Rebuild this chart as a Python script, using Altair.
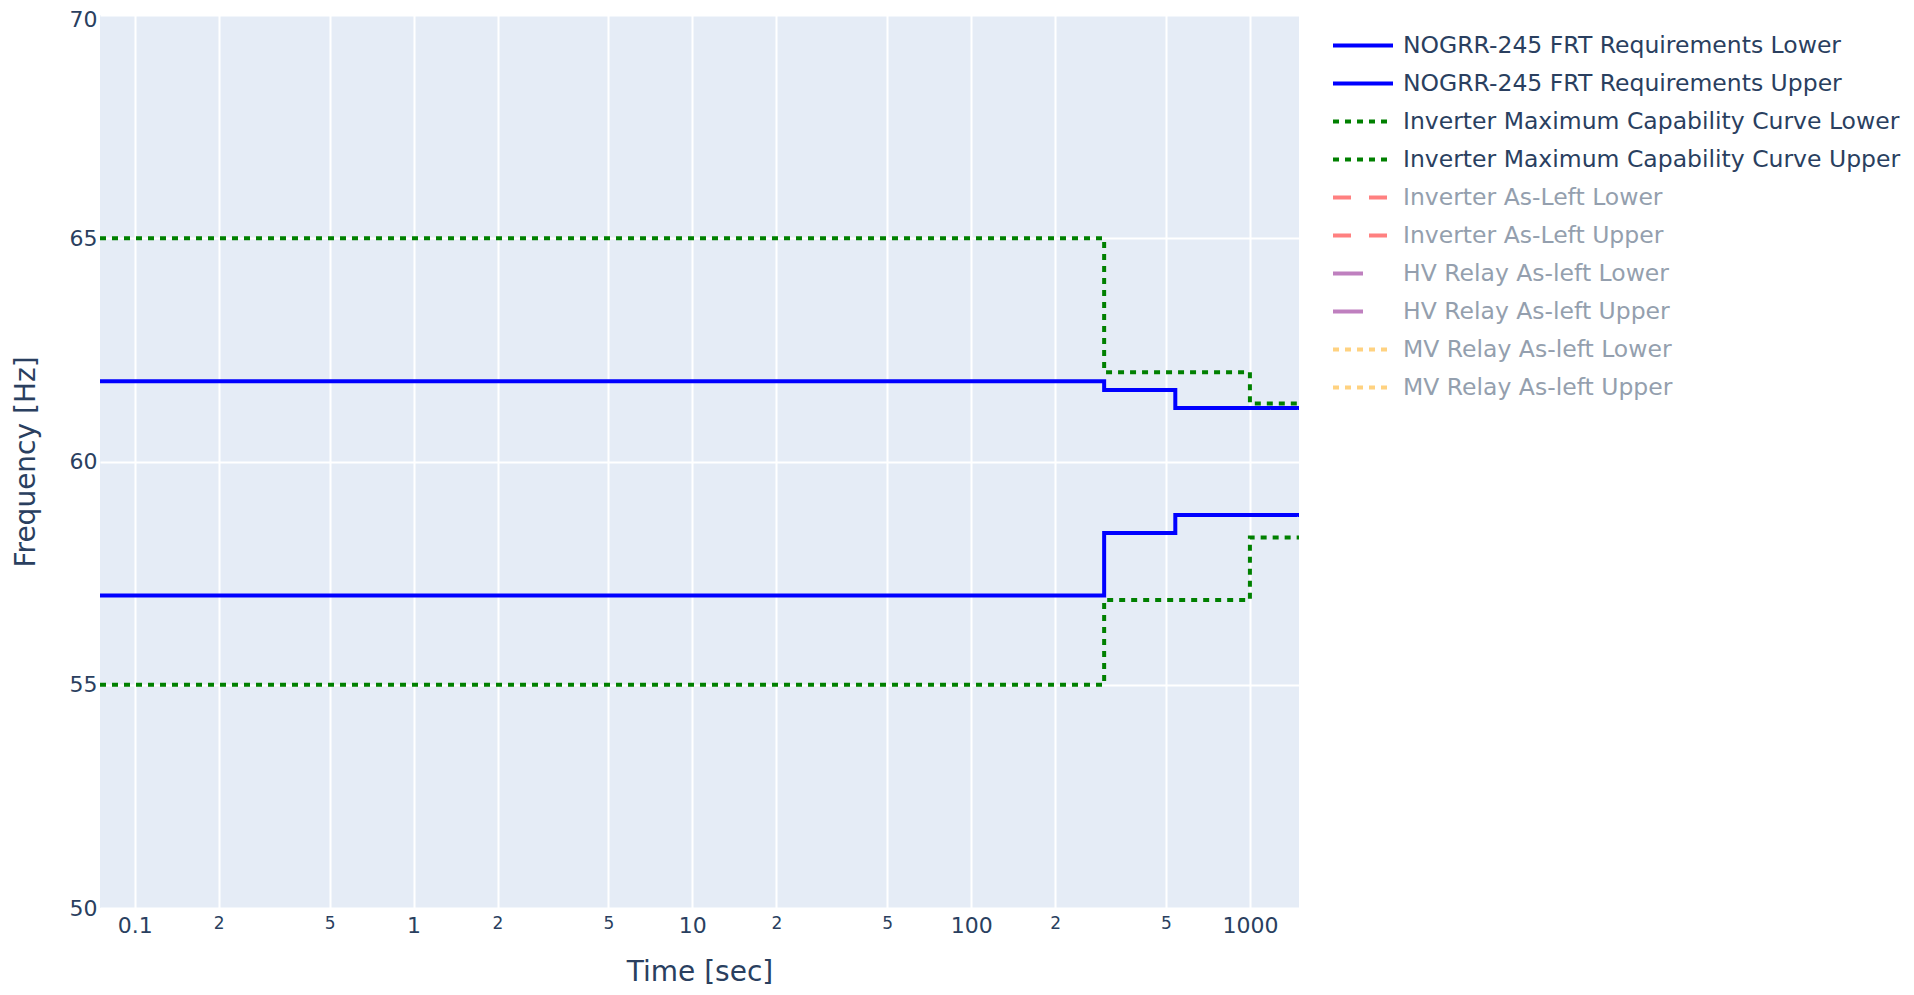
import altair as alt
import pandas as pd

# ---- data ----
series_names = [
    "NOGRR-245 FRT Requirements Lower",
    "NOGRR-245 FRT Requirements Upper",
    "Inverter Maximum Capability Curve Lower",
    "Inverter Maximum Capability Curve Upper",
    "Inverter As-Left Lower",
    "Inverter As-Left Upper",
    "HV Relay As-left Lower",
    "HV Relay As-left Upper",
    "MV Relay As-left Lower",
    "MV Relay As-left Upper",
]
hidden_names = series_names[4:]   # legend-only traces (not drawn)

# step curves (value holds from each breakpoint to the next)
nogrr_time = [0.075, 300, 540, 1500]
nogrr_lower = [57.0, 58.4, 58.8, 58.8]
nogrr_upper = [61.8, 61.6, 61.2, 61.2]
inv_time = [0.075, 300, 1000, 1500]
inv_lower = [55.0, 56.9, 58.3, 58.3]
inv_upper = [65.0, 62.0, 61.3, 61.3]

x_ticks = [0.1, 0.2, 0.5, 1, 2, 5, 10, 20, 50, 100, 200, 500, 1000]
y_ticks = [50, 55, 60, 65, 70]

series_colors = ["#0000ff", "#0000ff", "#008000", "#008000",
                 "#ff8080", "#ff8080", "#bf80bf", "#bf80bf", "#ffd280", "#ffd280"]
series_dashes = [[1, 0], [1, 0], [6, 6], [6, 6], [18, 18], [18, 18],
                 [30, 30], [30, 30], [6, 6], [6, 6]]

rows = []
for name, xs, ys in [
    (series_names[0], nogrr_time, nogrr_lower),
    (series_names[1], nogrr_time, nogrr_upper),
    (series_names[2], inv_time, inv_lower),
    (series_names[3], inv_time, inv_upper),
]:
    for t, f in zip(xs, ys):
        rows.append({"time": t, "freq": f, "series": name})
df = pd.DataFrame(rows)

FONT = "DejaVu Sans"
TXT = "#2a3f5f"

hidden_js = "[" + ",".join("'" + n + "'" for n in hidden_names) + "]"
legend = alt.Legend(
    title=None, orient="none", legendX=1231, legendY=11.5,
    labelFont=FONT, labelFontSize=23.5,
    labelColor={"expr": f"indexof({hidden_js}, datum.value) >= 0 ? '#949fae' : '{TXT}'"},
    labelLimit=700, labelOffset=8,
    symbolType="stroke", symbolSize=3600, symbolStrokeWidth=4,
    clipHeight=38, rowPadding=0, padding=0, offset=0,
)

major_test = "abs(log(datum.value)/LN10 - round(log(datum.value)/LN10)) < 0.01"
top_test = "datum.value == 70"

chart = alt.Chart(df).mark_line(interpolate="step-after", strokeWidth=4, clip=True).encode(
    x=alt.X("time:Q",
            scale=alt.Scale(type="log", domain=[0.075, 1500], nice=False),
            axis=alt.Axis(values=x_ticks, grid=True, gridColor="white", gridWidth=2,
                          domain=False, ticks=False, labelFlush=False,
                          labelExpr=f"{major_test} ? format(datum.value, '~g') : format(round(datum.value / pow(10, floor(log(datum.value)/LN10 + 1e-9))), 'd')",
                          labelFontSize={"condition": {"test": major_test, "value": 22}, "value": 17},
                          labelFont=FONT, labelColor=TXT, labelPadding=7,
                          title="Time [sec]", titleFont=FONT, titleFontSize=28,
                          titleFontWeight="normal", titleColor=TXT,
                          titleBaseline="alphabetic", titleY=72, titleX=599.5)),
    y=alt.Y("freq:Q",
            scale=alt.Scale(domain=[50, 70], nice=False, zero=False),
            axis=alt.Axis(values=y_ticks, grid=True, gridColor="white", gridWidth=2,
                          domain=False, ticks=False, labelFlush=False,
                          labelFont=FONT, labelFontSize=22, labelColor=TXT, labelPadding=3,
                          labelBaseline={"condition": {"test": top_test, "value": "top"}, "value": "middle"},
                          labelOffset={"condition": {"test": top_test, "value": -6}, "value": 0},
                          title="Frequency [Hz]", titleFont=FONT, titleFontSize=28,
                          titleFontWeight="normal", titleColor=TXT,
                          titleAngle=270, titleAlign="center", titleBaseline="alphabetic",
                          titleX=-66, titleY=446.5)),
    color=alt.Color("series:N", scale=alt.Scale(domain=series_names, range=series_colors),
                    legend=legend),
    strokeDash=alt.StrokeDash("series:N", scale=alt.Scale(domain=series_names, range=series_dashes),
                              legend=legend),
).properties(
    width=1199, height=893,
    autosize=alt.AutoSizeParams(type="none"),
    padding={"left": 92, "top": 7, "right": 607, "bottom": 79},
).configure_view(fill="#e5ecf6", strokeWidth=0)

chart.save("out.html", embed_options={"renderer": "svg", "actions": False})
